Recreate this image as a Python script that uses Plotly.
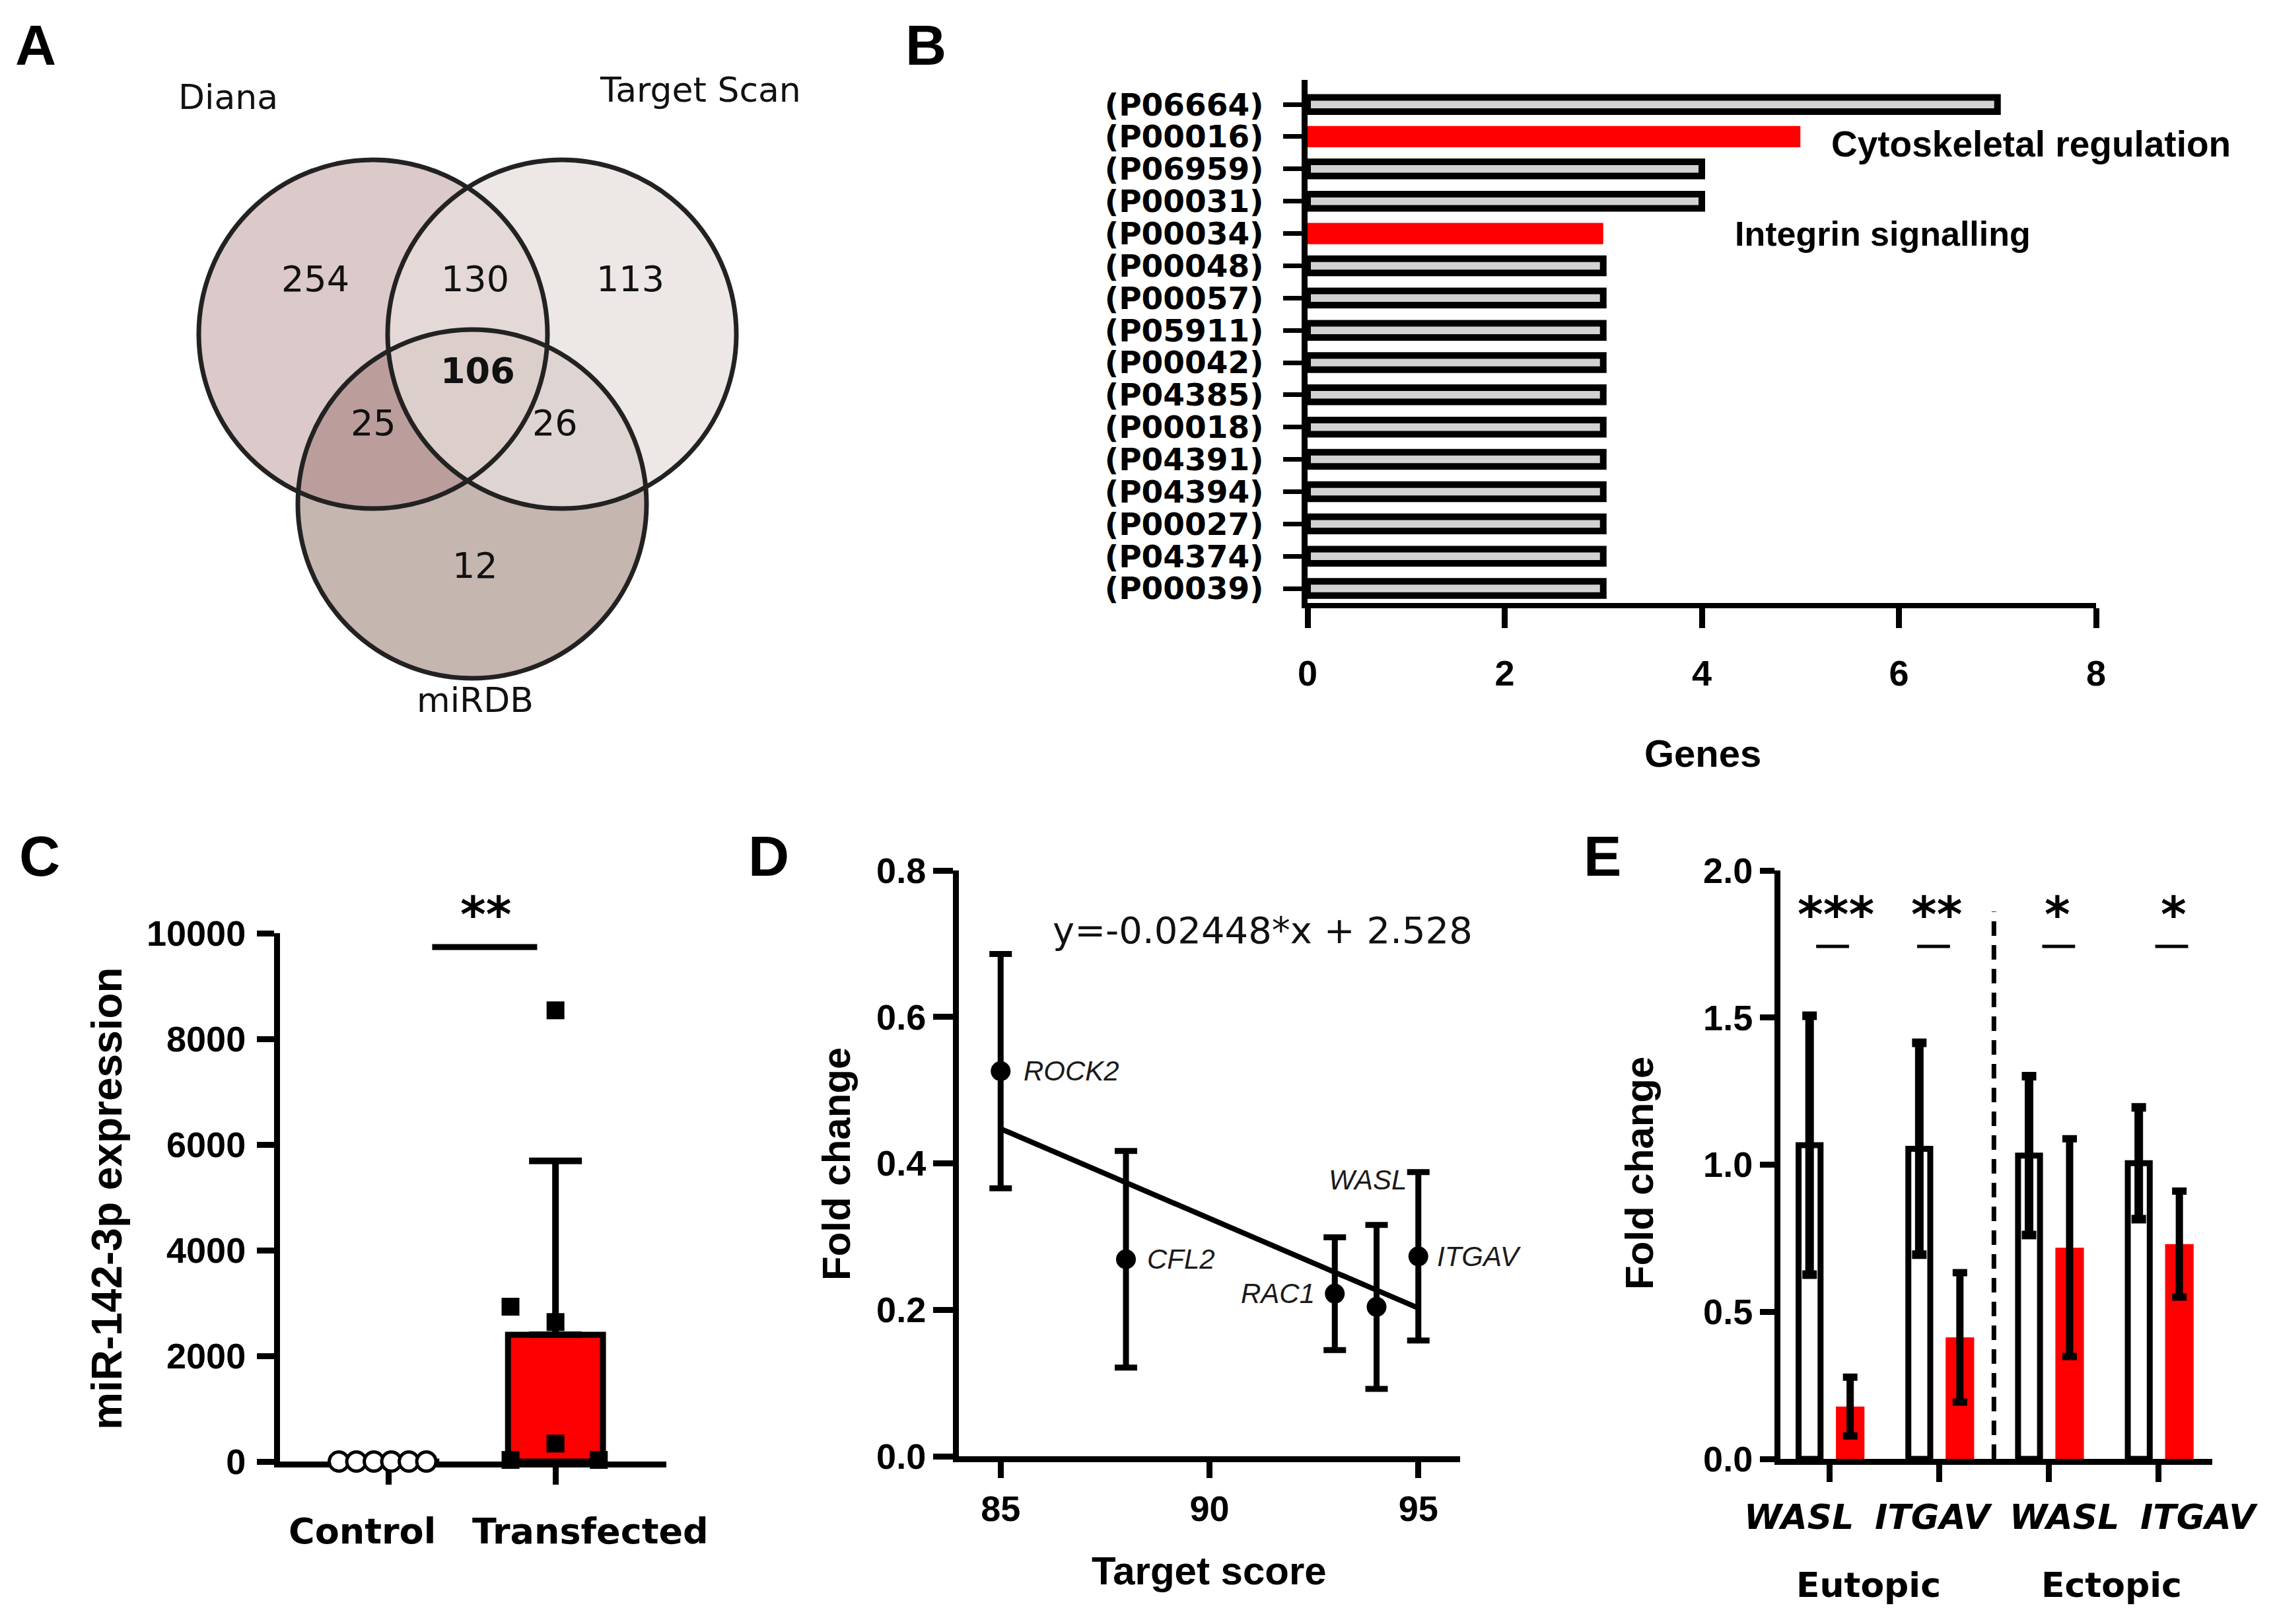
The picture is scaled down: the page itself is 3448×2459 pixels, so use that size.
import plotly.graph_objects as go

W, H = 3448, 2459
OFFX, OFFY = 4, 8  # compensation for the page offset of the rendered figure


def fx(p):
    return (p - OFFX) / W


def fy(p):
    return 1 - (p - OFFY) / H


# ---------------- data ----------------
# Panel A (Venn)
venn_sets = ["Diana", "Target Scan", "miRDB"]
venn_region_names = ["Diana", "Diana+TS", "TS", "All", "Diana+miRDB", "TS+miRDB", "miRDB"]
venn_region_counts = [254, 130, 113, 106, 25, 26, 12]

# Panel B (pathways)
pathway_ids = ["(P06664)", "(P00016)", "(P06959)", "(P00031)", "(P00034)", "(P00048)",
               "(P00057)", "(P05911)", "(P00042)", "(P04385)", "(P00018)", "(P04391)",
               "(P04394)", "(P00027)", "(P04374)", "(P00039)"]
pathway_genes = [7, 5, 4, 4, 3, 3, 3, 3, 3, 3, 3, 3, 3, 3, 3, 3]
pathway_names = {"(P00016)": "Cytoskeletal regulation", "(P00034)": "Integrin signalling"}

# Panel C (miR-142-3p expression)
expr_groups = ["Control", "Transfected"]
expr_control = [1, 1, 1, 1, 1, 1]
expr_transfected = [30, 8540, 2930, 2640, 340, 30]
expr_mean = [1, 2400]
expr_sd_up = [None, 3290]
expr_sig = "**"

# Panel D (fold change vs target score)
fc_genes = ["ROCK2", "CFL2", "RAC1", "WASL", "ITGAV"]
fc_score = [85, 88, 93, 94, 95]
fc_mean = [0.526, 0.269, 0.222, 0.204, 0.273]
fc_err = [0.160, 0.148, 0.077, 0.112, 0.115]
fit_slope = -0.02448
fit_intercept = 2.528
fit_span = [85, 95]
fit_label = "y=-0.02448*x + 2.528"

# Panel E (eutopic / ectopic)
tissue_genes = ["WASL", "ITGAV", "WASL", "ITGAV"]
tissue_groups = ["Eutopic", "Ectopic"]
tissue_ctrl_mean = [1.066, 1.054, 1.031, 1.005]
tissue_ctrl_sd = [0.44, 0.36, 0.27, 0.19]
tissue_mir_mean = [0.178, 0.413, 0.718, 0.730]
tissue_mir_sd = [0.10, 0.22, 0.37, 0.18]
tissue_sig = ["***", "**", "*", "*"]

# ---------------- styling / layout constants ----------------
ARIAL = "Liberation Sans, Arial, sans-serif"
VERD = "DejaVu Sans, Verdana, sans-serif"
RED = "#ff0000"
TICKFONT = dict(family=ARIAL, size=54, color="black", weight="bold")
TITLEFONT = dict(family=ARIAL, size=60, color="black", weight="bold")
AXLW = 9

fig = go.Figure()
shapes = []
ann = []


def add_text(text, x, y, xref="paper", yref="paper", xanchor="center", yanchor="middle", **kw):
    d = dict(text=text, x=x, y=y, xref=xref, yref=yref, xanchor=xanchor, yanchor=yanchor,
             showarrow=False)
    d.update(kw)
    ann.append(d)


def axis_style(**kw):
    d = dict(showgrid=False, zeroline=False, showline=True, linecolor="black",
             linewidth=AXLW, ticks="outside", tickcolor="black", tickwidth=AXLW,
             ticklen=26, tickfont=TICKFONT, fixedrange=True, automargin=False)
    d.update(kw)
    return d


# ---------- Panel A : Venn ----------
fig.add_trace(go.Scatter(x=[None], y=[None], xaxis="x", yaxis="y", showlegend=False))
venn_centers = [(561, 506), (847, 506), (711, 763)]
venn_r = 264
venn_fill = {"miRDB": "rgba(198,182,176,1)", "Diana": "rgba(171,126,129,0.42)",
             "Target Scan": "rgba(231,223,220,0.74)"}
for name in ["miRDB", "Diana", "Target Scan"]:
    cx, cy = venn_centers[venn_sets.index(name)]
    shapes.append(dict(type="circle", xref="x", yref="y", x0=cx - venn_r, x1=cx + venn_r,
                       y0=cy - venn_r, y1=cy + venn_r, fillcolor=venn_fill[name],
                       line=dict(width=0), layer="below"))
for (cx, cy) in venn_centers:
    shapes.append(dict(type="circle", xref="x", yref="y", x0=cx - venn_r, x1=cx + venn_r,
                       y0=cy - venn_r, y1=cy + venn_r, fillcolor="rgba(0,0,0,0)",
                       line=dict(width=7, color="#222222")))
venn_label_pos = [(341, 147), (1056, 136), (715, 1060)]
for name, (px, py) in zip(venn_sets, venn_label_pos):
    add_text(name, px, py, xref="x", yref="y", font=dict(family=VERD, size=52, color="#111"))
venn_count_pos = [(473, 422), (715, 422), (950, 422), (719, 561), (561, 640), (836, 640), (715, 856)]
for name, cnt, (px, py) in zip(venn_region_names, venn_region_counts, venn_count_pos):
    add_text(str(cnt), px, py, xref="x", yref="y",
             font=dict(family=VERD, size=54, color="#111",
                       weight="bold" if name == "All" else "normal"))

# ---------- Panel B : pathways ----------
is_hl = [p in pathway_names for p in pathway_ids]
fig.add_trace(go.Bar(
    x=pathway_genes, y=list(range(len(pathway_ids))), orientation="h",
    xaxis="x2", yaxis="y2",
    width=[0.66 if h else 0.44 for h in is_hl],
    marker=dict(color=[RED if h else "#d2d2d2" for h in is_hl],
                line=dict(color="black", width=[0 if h else 10 for h in is_hl])),
    showlegend=False, hoverinfo="skip"))
hl_label_x = {"(P00016)": 5.3, "(P00034)": 4.32}
hl_label_dy = {"(P00016)": 0.22, "(P00034)": 0.0}
hl_label_size = {"(P00016)": 55, "(P00034)": 52}
for i, p in enumerate(pathway_ids):
    if p in pathway_names:
        add_text(pathway_names[p], hl_label_x[p], i + hl_label_dy[p], xref="x2", yref="y2",
                 xanchor="left",
                 font=dict(family=ARIAL, size=hl_label_size[p], color="black", weight="bold"))
add_text("Genes", fx(2574), fy(1140),
         font=dict(family=ARIAL, size=58, color="black", weight="bold"))

# ---------- Panel C : expression ----------
fig.add_trace(go.Bar(
    x=[0, 1], y=expr_mean, xaxis="x3", yaxis="y3", width=0.57,
    marker=dict(color=["white", RED], line=dict(color="black", width=9)),
    error_y=dict(type="data", symmetric=False, array=expr_sd_up, arrayminus=[0, 0],
                 color="black", thickness=10, width=40),
    showlegend=False, hoverinfo="skip"))
ctrl_jitter = [-0.30, -0.195, -0.09, 0.015, 0.12, 0.225]
trans_jitter = [-0.27, 0.0, -0.27, 0.0, 0.0, 0.26]
fig.add_trace(go.Scatter(
    x=[0 + j for j in ctrl_jitter], y=expr_control, xaxis="x3", yaxis="y3", mode="markers",
    marker=dict(symbol="circle", size=29, color="white", line=dict(color="black", width=5)),
    cliponaxis=False, showlegend=False, hoverinfo="skip"))
fig.add_trace(go.Scatter(
    x=[1 + j for j in trans_jitter], y=expr_transfected, xaxis="x3", yaxis="y3", mode="markers",
    marker=dict(symbol="square", size=27, color="black"),
    cliponaxis=False, showlegend=False, hoverinfo="skip"))
expr_label_x = [-0.16, 1.21]
for g, xv in zip(expr_groups, expr_label_x):
    add_text(g, xv, fy(2318), xref="x3",
             font=dict(family=VERD, size=54, color="black", weight="bold"))
shapes.append(dict(type="line", xref="x3", yref="y3", x0=0.26, x1=0.89, y0=9738, y1=9738,
                   line=dict(color="black", width=9)))
add_text(expr_sig, 0.58, fy(1385), xref="x3",
         font=dict(family=VERD, size=74, color="black", weight="bold"))
add_text("miR-142-3p expression", fx(158), fy(1815), textangle=-90,
         font=dict(family=ARIAL, size=64, color="black", weight="bold"))

# ---------- Panel D : regression ----------
fig.add_trace(go.Scatter(
    x=fit_span, y=[fit_slope * v + fit_intercept for v in fit_span], xaxis="x4", yaxis="y4",
    mode="lines", line=dict(color="black", width=8), showlegend=False, hoverinfo="skip"))
fig.add_trace(go.Scatter(
    x=fc_score, y=fc_mean, xaxis="x4", yaxis="y4", mode="markers",
    marker=dict(size=30, color="black"),
    error_y=dict(type="data", array=fc_err, color="black", thickness=9, width=17),
    cliponaxis=False, showlegend=False, hoverinfo="skip"))
fc_label_style = {"ROCK2": ("left", 33, 0), "CFL2": ("left", 30, 0), "RAC1": ("right", -28, 0),
                  "WASL": ("center", -14, 192), "ITGAV": ("left", 26, 0)}
for g, xv, yv in zip(fc_genes, fc_score, fc_mean):
    anc, xs, ys = fc_label_style[g]
    add_text(g, xv, yv, xref="x4", yref="y4", xanchor=anc, xshift=xs, yshift=ys,
             font=dict(family=ARIAL, size=42, color="#1a1a1a", style="italic"))
add_text(fit_label, fx(1588), fy(1408), xanchor="left",
         font=dict(family=VERD, size=56, color="#111"))
add_text("Fold change", fx(1262), fy(1763), textangle=-90, font=TITLEFONT)
add_text("Target score", fx(1827), fy(2378), font=TITLEFONT)

# ---------- Panel E : tissue ----------
grp_x = list(range(len(tissue_genes)))
fig.add_trace(go.Bar(
    x=grp_x, y=tissue_ctrl_mean, xaxis="x5", yaxis="y5", width=0.2, offset=-0.28,
    marker=dict(color="white", line=dict(color="black", width=9)),
    error_y=dict(type="data", array=tissue_ctrl_sd, color="black", thickness=13, width=11),
    showlegend=False, hoverinfo="skip"))
fig.add_trace(go.Bar(
    x=grp_x, y=tissue_mir_mean, xaxis="x5", yaxis="y5", width=0.26, offset=0.06,
    marker=dict(color=RED, line=dict(width=0)),
    error_y=dict(type="data", array=tissue_mir_sd, color="black", thickness=11, width=11),
    showlegend=False, hoverinfo="skip"))
shapes.append(dict(type="line", xref="x5", yref="y5", x0=1.5, x1=1.5, y0=0, y1=1.86,
                   line=dict(color="black", width=7, dash="22px,14px")))
sig_center = [0.03, -0.05, 0.09, 0.12]
star_center = [0.06, -0.02, 0.08, 0.14]
for i, s in enumerate(tissue_sig):
    c = grp_x[i] + sig_center[i]
    shapes.append(dict(type="line", xref="x5", yref="y5", x0=c - 0.15, x1=c + 0.15,
                       y0=1.742, y1=1.742, line=dict(color="black", width=5)))
    add_text(s, grp_x[i] + star_center[i], fy(1385), xref="x5",
             font=dict(family=VERD, size=74, color="black", weight="bold"))
gene_label_dx = [-0.28, -0.05, 0.14, 0.37]
for i, g in enumerate(tissue_genes):
    add_text(g, grp_x[i] + gene_label_dx[i], fy(2297), xref="x5",
             font=dict(family=VERD, size=52, color="black", weight="bold", style="italic"))
group_label_x = [0.36, 2.57]
for g, xv in zip(tissue_groups, group_label_x):
    add_text(g, xv, fy(2400), xref="x5",
             font=dict(family=VERD, size=52, color="black", weight="bold"))
add_text("Fold change", fx(2478), fy(1777), textangle=-90, font=TITLEFONT)

# ---------- panel letters ----------
for letter, (px, py) in zip("ABCDE", [(50, 68), (1398, 68), (56, 1296), (1160, 1296), (2422, 1296)]):
    add_text(letter, fx(px), fy(py), font=dict(family=ARIAL, size=86, color="black", weight="bold"))

fig.update_layout(
    width=W, height=H, autosize=False, margin=dict(l=0, r=0, t=0, b=0, pad=0),
    paper_bgcolor="white", plot_bgcolor="rgba(0,0,0,0)", barmode="overlay",
    showlegend=False, font=dict(family=ARIAL, color="black"),
    xaxis=dict(domain=[0, 1300 / W], range=[OFFX, 1300 + OFFX], visible=False, anchor="y",
               fixedrange=True, automargin=False),
    yaxis=dict(domain=[1 - 1100 / H, 1], range=[1100 + OFFY, OFFY], visible=False, anchor="x",
               fixedrange=True, automargin=False),
    xaxis2=axis_style(domain=[fx(1976), fx(3170)], range=[0, 8], anchor="y2",
                      tickvals=[0, 2, 4, 6, 8], ticklen=30, ticklabelstandoff=22, linewidth=8),
    yaxis2=axis_style(domain=[fy(913), fy(121)], range=[15.45, -0.76], anchor="x2",
                      tickvals=list(range(len(pathway_ids))), ticktext=pathway_ids,
                      ticklen=28, tickwidth=7, linewidth=9, ticklabelstandoff=20,
                      tickfont=dict(family=VERD, size=47, color="black", weight="bold")),
    xaxis3=axis_style(domain=[fx(420), fx(1005)], range=[-0.653, 1.665], anchor="y3",
                      tickvals=[0, 1], ticktext=["", ""], layer="below traces"),
    yaxis3=axis_style(domain=[fy(2213), fy(1413)], range=[0, 10000], anchor="x3",
                      tickvals=[0, 2000, 4000, 6000, 8000, 10000], tickformat="d",
                      layer="below traces", ticklabelstandoff=6),
    xaxis4=axis_style(domain=[fx(1448), fx(2207)], range=[84, 96], anchor="y4",
                      tickvals=[85, 90, 95], ticklen=24, ticklabelstandoff=0),
    yaxis4=axis_style(domain=[fy(2205), fy(1318)], range=[0, 0.8], anchor="x4",
                      tickvals=[0, 0.2, 0.4, 0.6, 0.8], tickformat=".1f", ticklen=30,
                      ticklabelstandoff=0),
    xaxis5=axis_style(domain=[fx(2692), fx(3346)], range=[-0.446, 3.49], anchor="y5",
                      tickvals=grp_x, ticktext=["" for _ in grp_x], ticklen=26),
    yaxis5=axis_style(domain=[fy(2209), fy(1318)], range=[0, 2], anchor="x5",
                      tickvals=[0, 0.5, 1, 1.5, 2], tickformat=".1f", ticklen=22,
                      ticklabelstandoff=0),
    shapes=shapes, annotations=ann,
)

fig.write_html("out.html")
